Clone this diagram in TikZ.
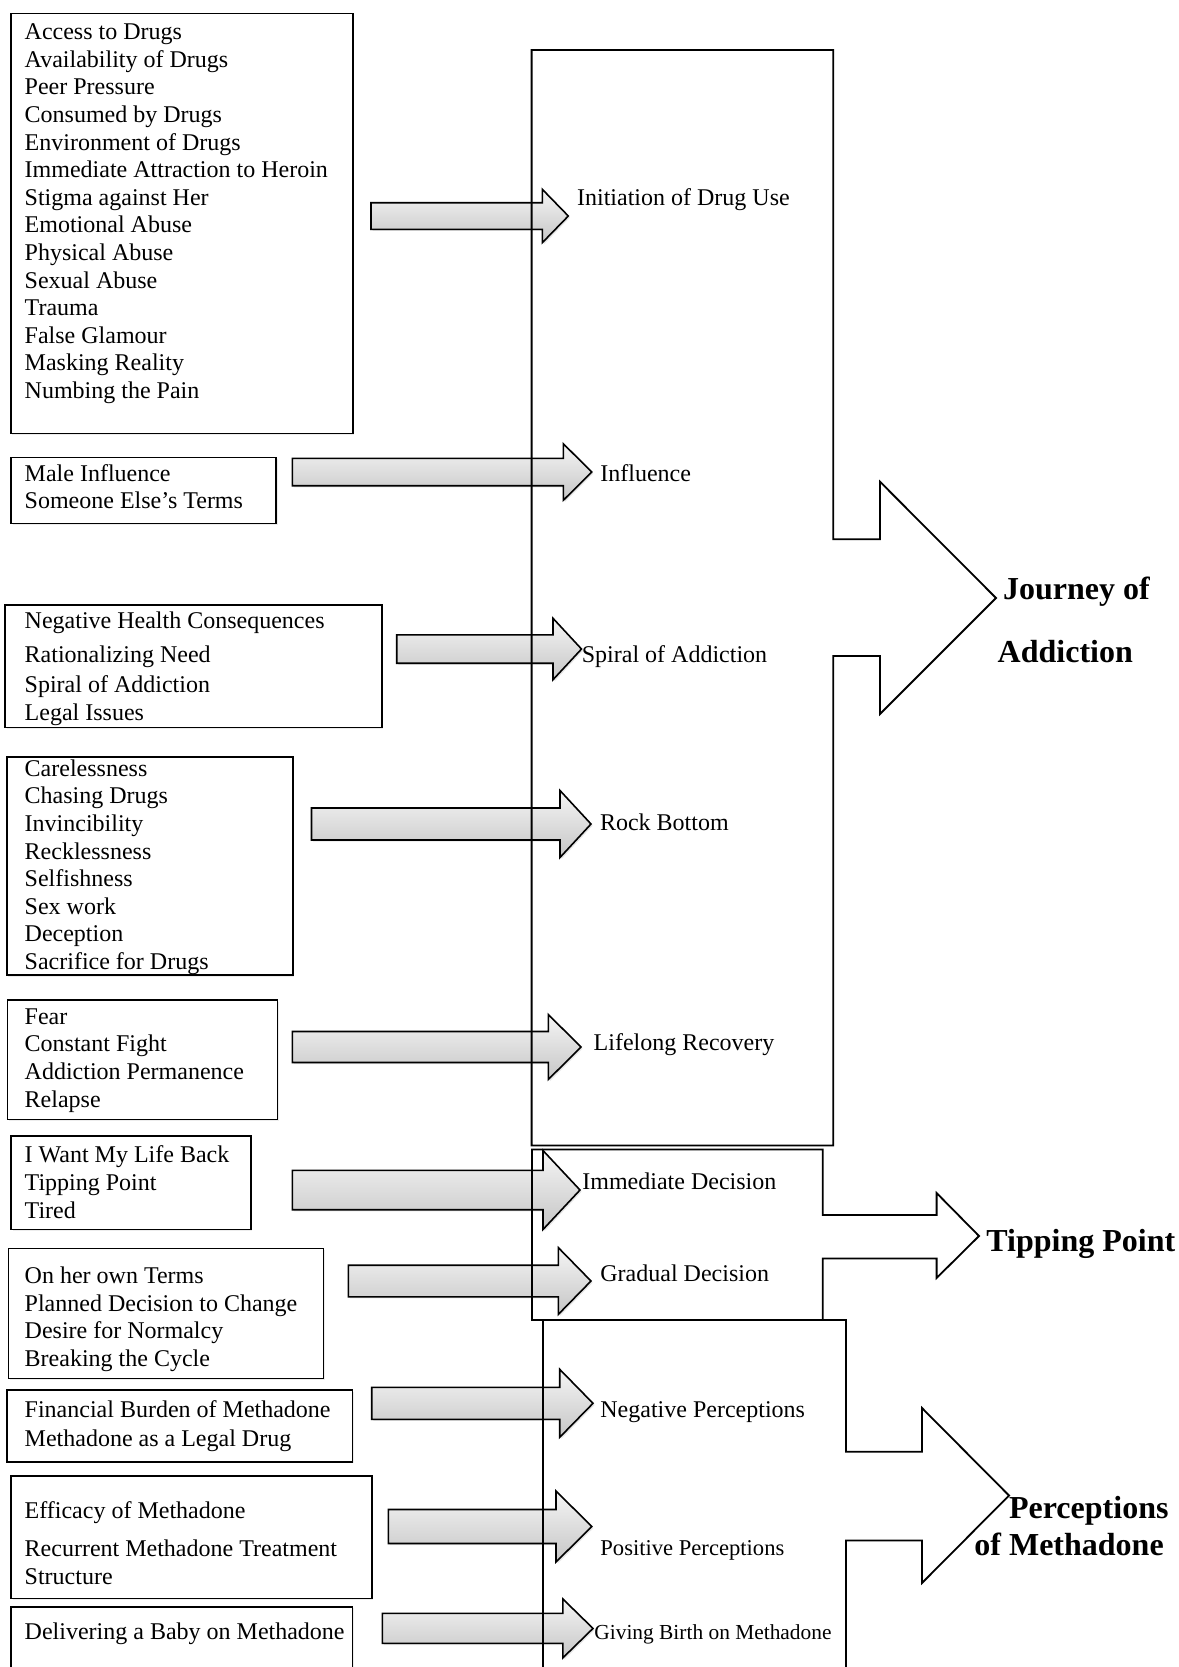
\documentclass[tikz,border=0pt]{standalone}
\usepackage{fontspec}
\setmainfont{Liberation Serif}
\usetikzlibrary{shadows}

\begin{document}
\begin{tikzpicture}[x=0.5pt,y=-0.5pt,
  frame/.style={draw,line width=0.8pt,fill=white,
    drop shadow={opacity=0.15,shadow xshift=0.8pt,shadow yshift=-0.8pt}},
  item/.style={anchor=north west,inner sep=0pt,align=left,
    font=\fontsize{12}{13.8}\selectfont},
  lab/.style={anchor=base west,inner sep=0pt,font=\fontsize{12}{13.8}\selectfont},
  theme/.style={anchor=base west,inner sep=0pt,font=\fontsize{16}{18}\selectfont\bfseries},
  blk/.style={draw,line width=0.8pt,top color=gray!8,bottom color=gray!45,
    drop shadow={opacity=0.2,shadow xshift=0.8pt,shadow yshift=-0.8pt}},
  outline/.style={draw,line width=0.9pt,line join=miter}
  ]
\def\up{\rule{0pt}{9pt}}
\useasboundingbox (0,0) rectangle (1179,1667);

% boxes on the left
\foreach \xa/\ya/\xb/\yb in {10.7/13.3/352.7/433.3, 11/457.3/276/523.3,
    5/605/381.7/727.3, 6.7/756.7/292.7/975, 7.4/1000/277.3/1119.3,
    11/1136/250.7/1229.3, 8.3/1248.3/323.3/1378.3, 6.7/1390/352.3/1461.7,
    11/1476/371.7/1598.3}
  \path[frame] (\xa,\ya) rectangle (\xb,\yb);
\path[frame] (11,1700) -- (11,1606.7) -- (352.3,1606.7) -- (352.3,1700);

\node[item] (i1) at (24.3,21.2) {\up Access to Drugs\\Availability of Drugs\\Peer Pressure\\
  Consumed by Drugs\\Environment of Drugs\\Immediate Attraction to Heroin\\
  Stigma against Her\\Emotional Abuse\\Physical Abuse\\Sexual Abuse\\Trauma\\
  False Glamour\\Masking Reality\\Numbing the Pain};
\node[item] (i2) at (24.3,462.8) {\up Male Influence\\Someone Else’s Terms};
\node[item] (i3) at (24.3,610.5) {\up Negative Health Consequences\\[3.2pt]
  Rationalizing Need\\[1.2pt]Spiral of Addiction\\Legal Issues};
\node[item] (i4) at (24.3,757.8) {\up Carelessness\\Chasing Drugs\\Invincibility\\
  Recklessness\\Selfishness\\Sex work\\Deception\\Sacrifice for Drugs};
\node[item] (i5) at (24.3,1005.8) {\up Fear\\Constant Fight\\Addiction Permanence\\Relapse};
\node[item] (i6) at (24.3,1144.5) {\up I Want My Life Back\\Tipping Point\\Tired};
\node[item] (i7) at (24.3,1265.2) {\up On her own Terms\\Planned Decision to Change\\
  Desire for Normalcy\\Breaking the Cycle};
\node[item] (i8) at (24.3,1399.5) {\up Financial Burden of Methadone\\[0.4pt]
  Methadone as a Legal Drug};
\node[item] (i9) at (24.3,1500.2) {\up Efficacy of Methadone\\[5pt]
  Recurrent Methadone Treatment\\[0.4pt]Structure};
\node[item] (i10) at (24.3,1621.2) {\up Delivering a Baby on Methadone};

% block arrows: shaft start, head base, tip, mid y, half shaft, half head
\foreach \xs/\xb/\xt/\yc/\hs/\hh in {371/542.3/568.3/216/13.3/26.7,
    292.3/563.3/591.7/472/13.7/28.3, 396.7/553/581.5/649/14.2/30.7,
    311.5/560/591/824/16/33.5, 292.3/548.3/581/1047/15.5/32.5,
    292.3/543/580/1190/19.7/39.5, 348.3/558.4/591/1281/15.8/33.3,
    371.7/559.7/593/1403.3/16/34, 388.3/556/591.8/1526.5/17/35.5,
    382.3/562.8/593/1628.4/15/29.5}
  \path[blk] (\xs,\yc-\hs) -- (\xb,\yc-\hs) -- (\xb,\yc-\hh) -- (\xt,\yc)
    -- (\xb,\yc+\hh) -- (\xb,\yc+\hs) -- (\xs,\yc+\hs) -- cycle;

% big themes
\path[outline] (531.6,50) -- (833.3,50) -- (833.3,539.3) -- (880,539.3) -- (880,481.7)
  -- (996,598) -- (880,714) -- (880,656) -- (833.3,656) -- (833.3,1145.5)
  -- (531.6,1145.5) -- cycle;
\path[outline] (532,1149.5) -- (822.7,1149.5) -- (822.7,1215) -- (936.6,1215)
  -- (936.6,1193) -- (979,1236) -- (936.6,1278) -- (936.6,1258.5)
  -- (822.7,1258.5) -- (822.7,1320) -- (532,1320) -- cycle;
\path[outline] (543,1700) -- (543,1320) -- (846,1320) -- (846,1451.7) -- (922,1451.7)
  -- (922,1408) -- (1009,1495.5) -- (922,1583) -- (922,1540.5) -- (846,1540.5)
  -- (846,1700);

\node[lab] (l1) at (576.7,205) {Initiation of Drug Use};
\node[lab] (l2) at (600,481) {Influence};
\node[lab] (l3) at (581.5,662.5) {Spiral of Addiction};
\node[lab] (l4) at (599.6,830.5) {Rock Bottom};
\node[lab] (l5) at (593.3,1050.7) {Lifelong Recovery};
\node[lab] (l6) at (582,1189) {Immediate Decision};
\node[lab] (l7) at (600,1281.5) {Gradual Decision};
\node[lab] (l8) at (600,1417) {Negative Perceptions};
\node[lab,font=\fontsize{11.3}{13}\selectfont] (l9) at (600,1555) {Positive Perceptions};
\node[lab,font=\fontsize{10.7}{12}\selectfont] (l10) at (594,1639) {Giving Birth on Methadone};

\node[theme] (t1) at (1002.7,599.3) {Journey of};
\node[theme] (t1b) at (997.3,662.7) {Addiction};
\node[theme] (t2) at (986,1251) {Tipping Point};
\node[theme] (t3) at (1008.7,1518.3) {Perceptions};
\node[theme] (t3b) at (974,1555) {of Methadone};
\end{tikzpicture}
\end{document}
